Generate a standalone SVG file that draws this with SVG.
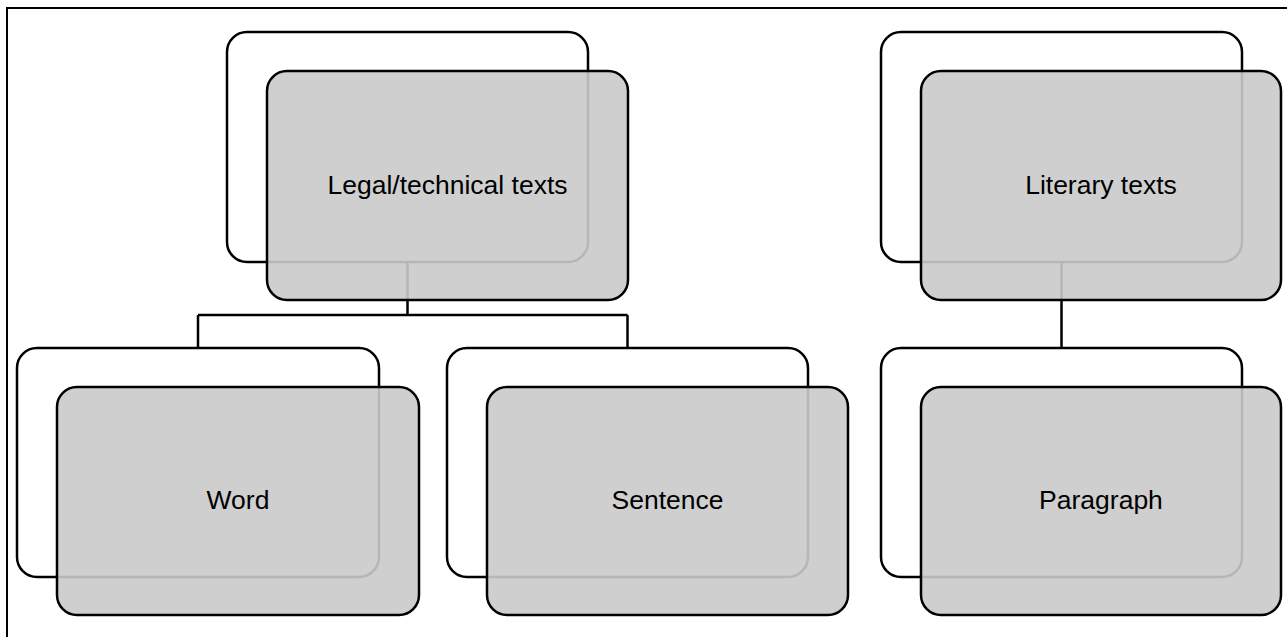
<svg xmlns="http://www.w3.org/2000/svg" width="1287" height="637" viewBox="0 0 1287 637">
  <defs>
    <style>
      .back { fill: #ffffff; stroke: #000000; stroke-width: 2.5; }
      .front { fill: #cacaca; fill-opacity: 0.9; stroke: #000000; stroke-width: 2.5; }
      .conn { fill: none; stroke: #000000; stroke-width: 2.5; }
      .frame { fill: none; stroke: #000000; stroke-width: 2; }
      .label { font-family: "Liberation Sans", Arial, sans-serif; font-size: 26.5px; fill: #000000; text-anchor: middle; }
    </style>
  </defs>

  <rect width="1287" height="637" fill="#ffffff"/>

  <!-- page frame (top and left edges) -->
  <path class="frame" d="M7,637 V8 H1287"/>

  <!-- connectors sit beneath the stacked cards -->
  <g id="connectors">
    <path class="conn" d="M407.5,262 V315 M198,315 H627.5 M198,315 V348 M627.5,315 V348"/>
    <path class="conn" d="M1061.5,262 V348"/>
  </g>

  <g id="legal-technical">
    <rect class="back" x="227" y="32" width="361" height="230" rx="20"/>
    <rect class="front" x="267" y="71" width="361" height="229" rx="20"/>
    <text class="label" x="447.5" y="194">Legal/technical texts</text>
  </g>

  <g id="literary">
    <rect class="back" x="881" y="32" width="361" height="230" rx="20"/>
    <rect class="front" x="921" y="71" width="360" height="229" rx="20"/>
    <text class="label" x="1101" y="194">Literary texts</text>
  </g>

  <g id="word">
    <rect class="back" x="17" y="348" width="362" height="229" rx="20"/>
    <rect class="front" x="57" y="387" width="362" height="228" rx="20"/>
    <text class="label" x="238" y="509">Word</text>
  </g>

  <g id="sentence">
    <rect class="back" x="447" y="348" width="361" height="229" rx="20"/>
    <rect class="front" x="487" y="387" width="361" height="228" rx="20"/>
    <text class="label" x="667.5" y="509">Sentence</text>
  </g>

  <g id="paragraph">
    <rect class="back" x="881" y="348" width="361" height="229" rx="20"/>
    <rect class="front" x="921" y="387" width="360" height="228" rx="20"/>
    <text class="label" x="1101" y="509">Paragraph</text>
  </g>
</svg>
